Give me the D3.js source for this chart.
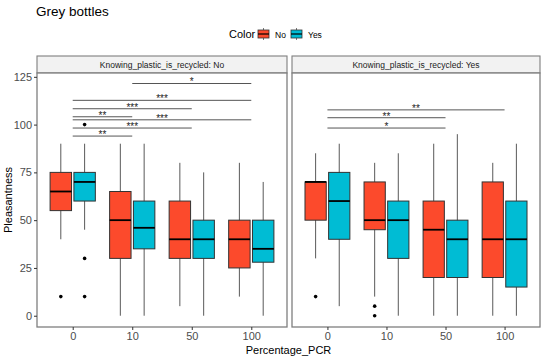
<!DOCTYPE html>
<html><head><meta charset="utf-8">
<script src="https://cdn.jsdelivr.net/npm/d3@7"></script>
<style>body{margin:0;background:#fff}svg{display:block;font-family:"Liberation Sans",Arial,sans-serif}</style>
</head><body><svg id="c" width="550" height="361"></svg>
<script>
const categories = ["0","10","50","100"];
const colorGroups = ["No","Yes"];
const panels = ["No","Yes"];
const yTicks = [0,25,50,75,100,125];
// box stats: [lower whisker, q1, median, q3, upper whisker] per category
const statsKnowNoColorNo  = [[40,55,65,75,90],[0,30,50,65,90],[5,30,40,60,80],[10,25,40,50,80]];
const statsKnowNoColorYes = [[45,60,70,75,90],[0,35,46,60,90],[0,30,40,50,75],[0,28,35,50,70]];
const statsKnowYesColorNo  = [[30,50,70,70,85],[10,45,50,70,80],[0,20,45,60,90],[0,20,40,70,80]];
const statsKnowYesColorYes = [[5,40,60,75,90],[0,30,50,60,85],[0,20,40,50,95],[0,15,40,60,90]];
// outliers: [category, color, value]
const outliersKnowNo  = [["0","No",10],["0","Yes",30],["0","Yes",10],["0","Yes",100]];
const outliersKnowYes = [["0","No",10],["10","No",5],["10","No",0]];
// significance brackets: [from, to, y, label]
const bracketsKnowNo  = [["10","100",121.5,"*"],["0","100",112.7,"***"],["0","50",108.3,"***"],["0","10",104.1,"**"],["0","100",102.5,"***"],["0","50",98.2,"***"],["0","10",94,"**"]];
const bracketsKnowYes = [["0","100",107.7,"**"],["0","50",103.6,"**"],["0","50",98.2,"*"]];

const fill = d3.scaleOrdinal().domain(colorGroups).range(["#FC4A2C","#00BCD4"]);
const svg = d3.select("#c");
const yTop = 73, yBottom = 327, stripTop = 56;
const y = d3.scaleLinear().domain([-5.9,127]).range([yBottom, yTop]);

const panelDefs = [
  {key:panels[0], x0:37, x1:287, stats:{No:statsKnowNoColorNo, Yes:statsKnowNoColorYes}, out:outliersKnowNo, br:bracketsKnowNo},
  {key:panels[1], x0:292, x1:540, stats:{No:statsKnowYesColorNo, Yes:statsKnowYesColorYes}, out:outliersKnowYes, br:bracketsKnowYes}
];

svg.append("text").attr("x",36).attr("y",16).attr("font-size",13.5).attr("fill","#000").text("Grey bottles");
const lg = svg.append("g");
lg.append("text").attr("x",229).attr("y",38).attr("font-size",11).attr("fill","#000").text("Color");
const legX = [258, 291];
colorGroups.forEach((g,i)=>{
  const kx = legX[i];
  lg.append("line").attr("x1",kx+5.5).attr("x2",kx+5.5).attr("y1",28).attr("y2",40).attr("stroke","#555").attr("stroke-width",0.8);
  lg.append("rect").attr("x",kx).attr("y",30).attr("width",11).attr("height",8).attr("fill",fill(g)).attr("stroke","#333").attr("stroke-width",0.8);
  lg.append("line").attr("x1",kx).attr("x2",kx+11).attr("y1",34).attr("y2",34).attr("stroke","#000").attr("stroke-width",1.2);
  lg.append("text").attr("x",kx+17).attr("y",37.5).attr("font-size",8.5).attr("fill","#000").text(g);
});

panelDefs.forEach((p,pi)=>{
  const g = svg.append("g");
  const x = d3.scalePoint().domain(categories).range([p.x0,p.x1]).padding(0.6);
  const step = x.step();
  const dodge = d3.scaleBand().domain(colorGroups).range([-0.4*step,0.4*step]);
  const bw = dodge.bandwidth()*0.9;
  g.append("rect").attr("x",p.x0).attr("y",stripTop).attr("width",p.x1-p.x0).attr("height",yTop-stripTop).attr("fill","#F2F2F2").attr("stroke","#7F7F7F").attr("stroke-width",1.1);
  g.append("text").attr("x",(p.x0+p.x1)/2).attr("y",(stripTop+yTop)/2+3.1).attr("text-anchor","middle").attr("font-size",8.5).attr("fill","#1A1A1A").text("Knowing_plastic_is_recycled: "+p.key);
  g.append("rect").attr("x",p.x0).attr("y",yTop).attr("width",p.x1-p.x0).attr("height",yBottom-yTop).attr("fill","#fff");
  colorGroups.forEach(cg=>{
    categories.forEach((c,ci)=>{
      const s = p.stats[cg][ci];
      const cx = x(c) + dodge(cg) + dodge.bandwidth()/2;
      g.append("line").attr("x1",cx).attr("x2",cx).attr("y1",y(s[4])).attr("y2",y(s[0])).attr("stroke","#595959").attr("stroke-width",1);
      g.append("rect").attr("x",cx-bw/2).attr("y",y(s[3])).attr("width",bw).attr("height",y(s[1])-y(s[3])).attr("fill",fill(cg)).attr("stroke","#333").attr("stroke-width",1);
      g.append("line").attr("x1",cx-bw/2).attr("x2",cx+bw/2).attr("y1",y(s[2])).attr("y2",y(s[2])).attr("stroke","#000").attr("stroke-width",1.8);
    });
  });
  p.out.forEach(o=>{
    const cx = x(o[0]) + dodge(o[1]) + dodge.bandwidth()/2;
    g.append("circle").attr("cx",cx).attr("cy",y(o[2])).attr("r",1.8).attr("fill","#000");
  });
  p.br.forEach(b=>{
    g.append("line").attr("x1",x(b[0])).attr("x2",x(b[1])).attr("y1",y(b[2])).attr("y2",y(b[2])).attr("stroke","#555").attr("stroke-width",1);
    g.append("text").attr("x",(x(b[0])+x(b[1]))/2).attr("y",y(b[2])+1.8).attr("text-anchor","middle").attr("font-size",10).attr("fill","#222").text(b[3]);
  });
  g.append("rect").attr("x",p.x0).attr("y",yTop).attr("width",p.x1-p.x0).attr("height",yBottom-yTop).attr("fill","none").attr("stroke","#7F7F7F").attr("stroke-width",1.3);
  const xa = g.append("g").attr("transform",`translate(0,${yBottom})`).call(d3.axisBottom(x).tickSize(3).tickPadding(2));
  xa.select(".domain").remove();
  xa.selectAll("line").attr("stroke","#333");
  xa.selectAll("text").attr("font-size",11).attr("fill","#4D4D4D").attr("font-family","Liberation Sans, Arial, sans-serif");
  if(pi===0){
    const ya = g.append("g").attr("transform",`translate(${p.x0},0)`).call(d3.axisLeft(y).tickValues(yTicks).tickSize(3).tickPadding(2));
    ya.select(".domain").remove();
    ya.selectAll("line").attr("stroke","#333");
    ya.selectAll("text").attr("font-size",11).attr("fill","#4D4D4D").attr("font-family","Liberation Sans, Arial, sans-serif");
  }
});
svg.append("text").attr("x",288.5).attr("y",354).attr("text-anchor","middle").attr("font-size",11).attr("fill","#000").text("Percentage_PCR");
svg.append("text").attr("transform",`translate(12,${(yTop+yBottom)/2}) rotate(-90)`).attr("text-anchor","middle").attr("font-size",11).attr("fill","#000").text("Pleasantness");
</script></body></html>
